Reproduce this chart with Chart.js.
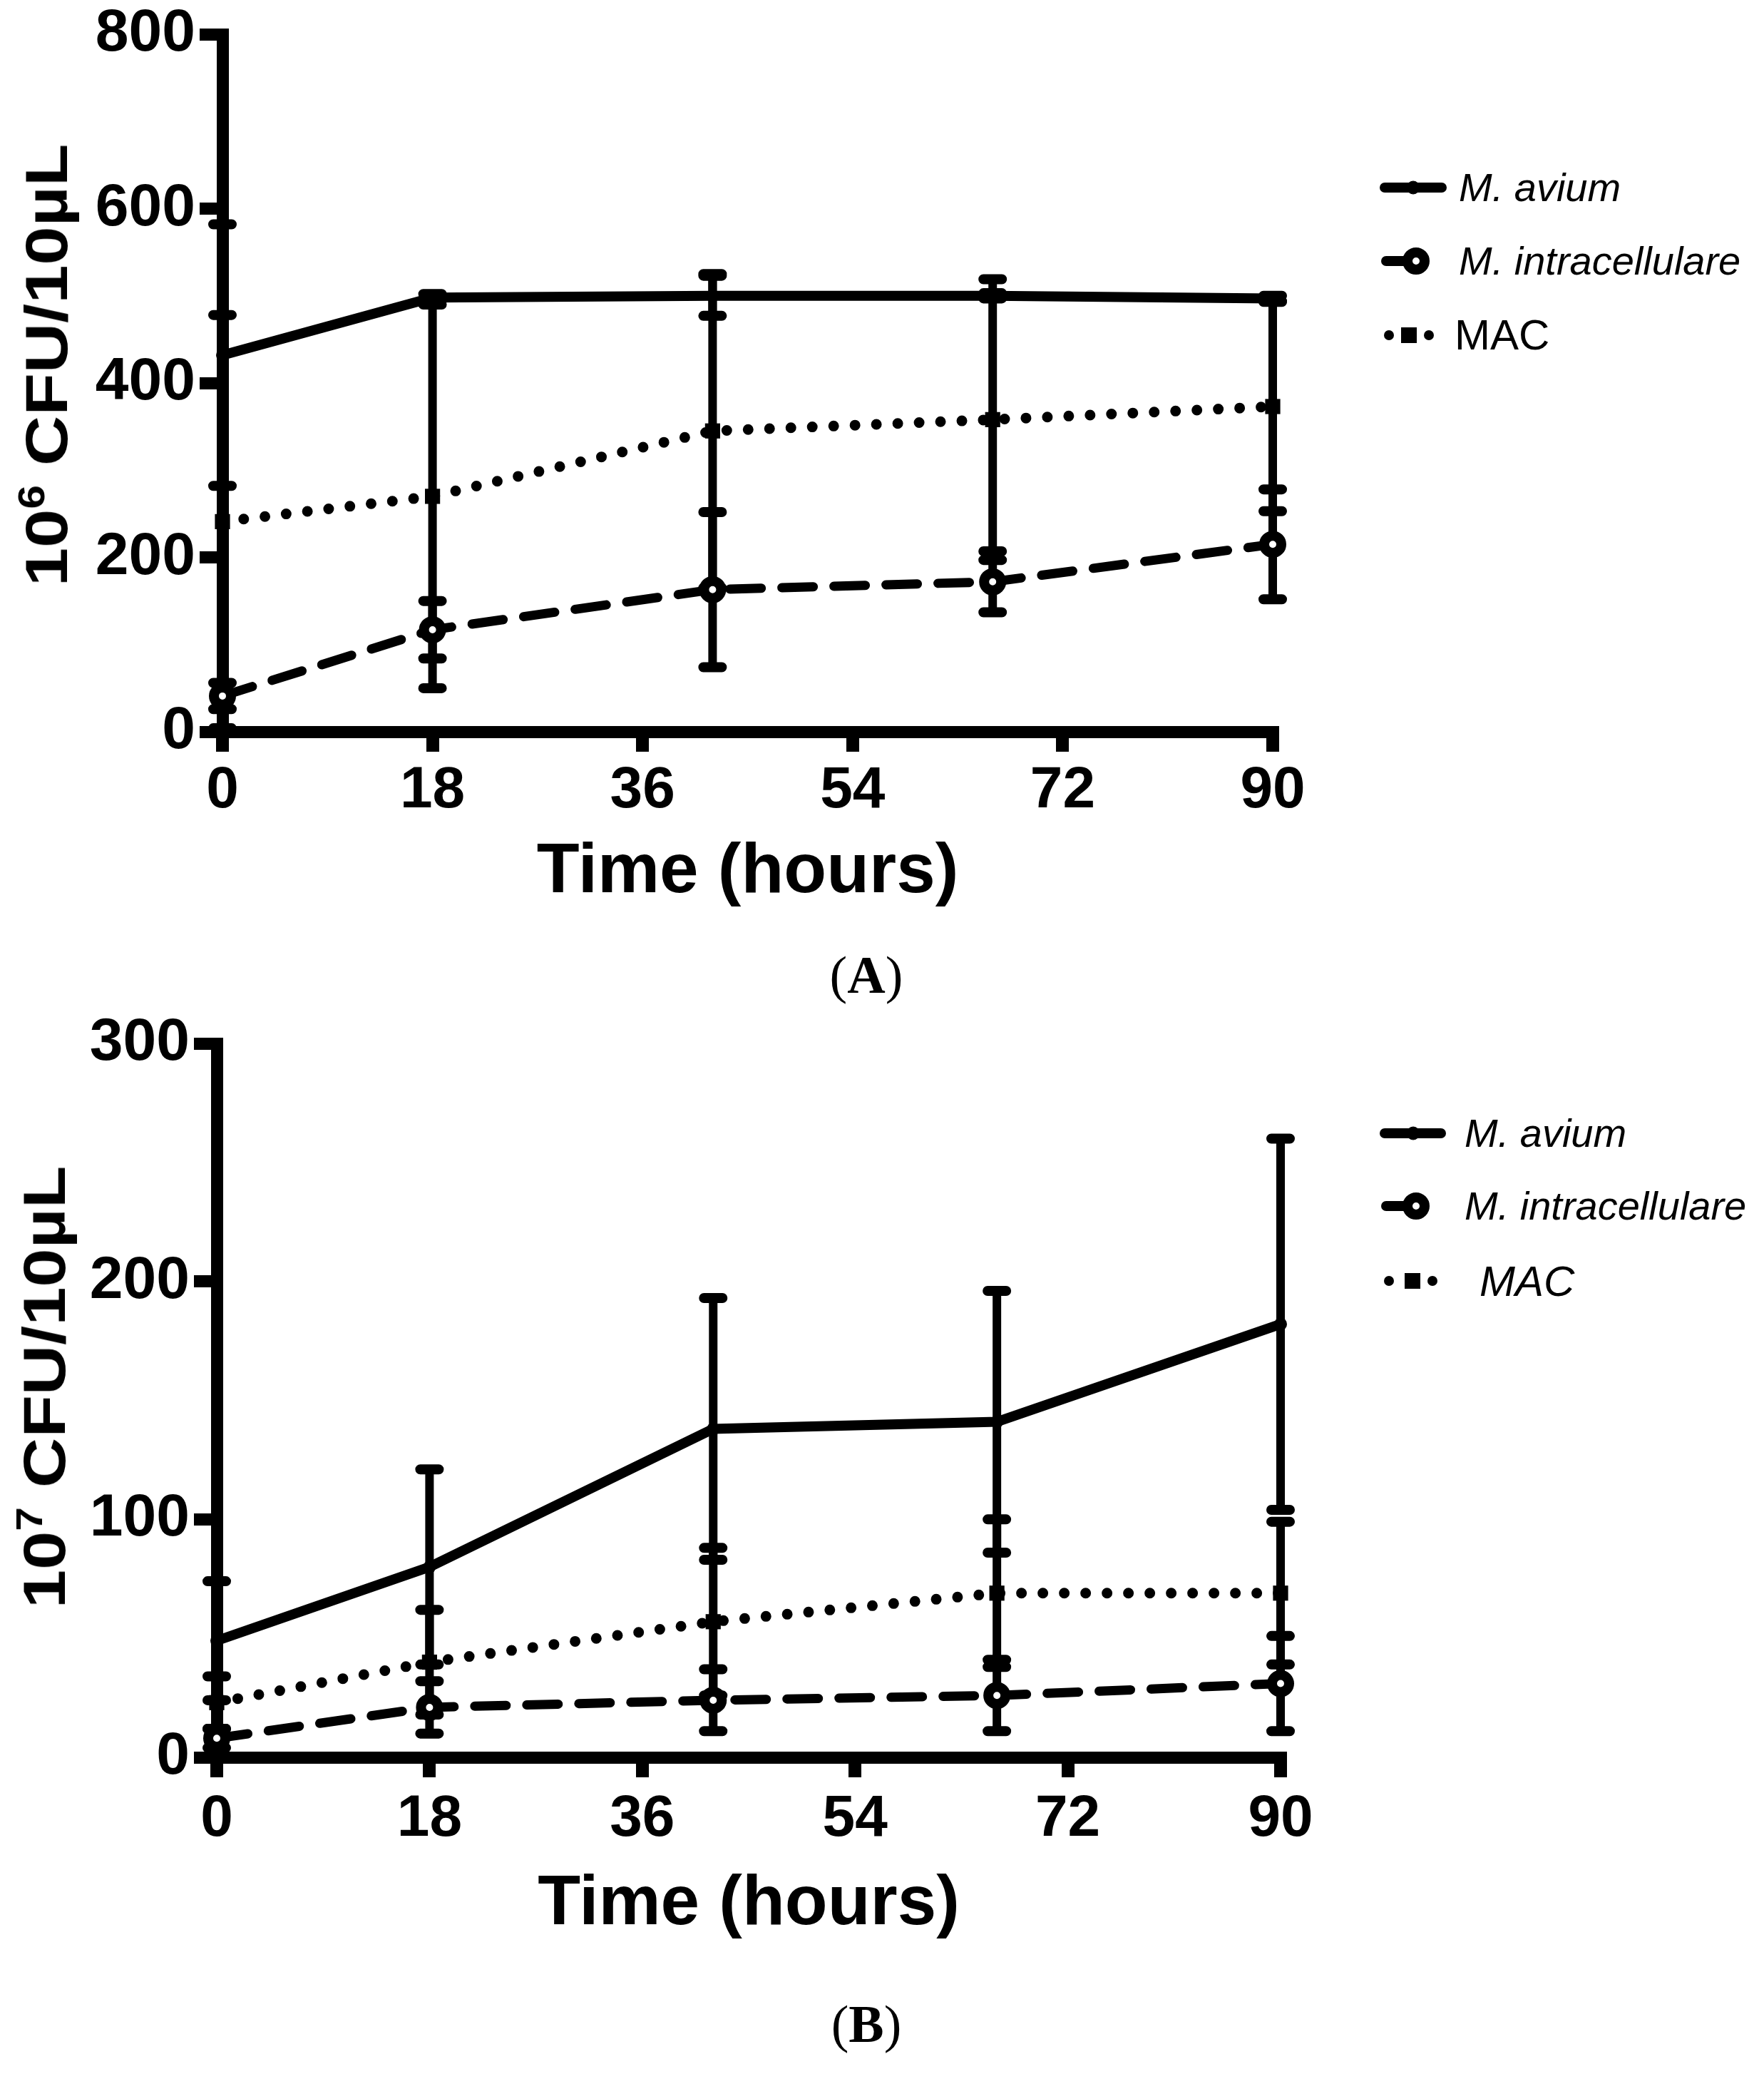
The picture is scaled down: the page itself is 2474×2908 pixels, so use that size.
<!DOCTYPE html>
<html>
<head>
<meta charset="utf-8">
<script src="https://cdn.jsdelivr.net/npm/chart.js@4.4.1/dist/chart.umd.min.js"></script>
<style>
  html, body { margin: 0; padding: 0; background: #fff; }
  #page { position: relative; width: 2474px; height: 2908px; overflow: hidden; background: #fff;
          font-family: "Liberation Sans", Arial, sans-serif; color: #000; }
  canvas { position: absolute; left: 0; }
  #chartA { top: 0; }
  #chartB { top: 1380px; }
  .ytitle { position: absolute; white-space: nowrap; font-weight: bold; font-size: 84px; line-height: 84px;
            transform: translate(-50%, -50%) rotate(-90deg) scaleX(1.16); }
  .ytitle sup { font-size: 0.62em; vertical-align: 0.62em; line-height: 0; }
  .panel { position: absolute; font-family: "Liberation Serif", "Times New Roman", serif; font-size: 74px;
           line-height: 80px; transform: translate(-50%, -50%); }
  .leg { position: absolute; white-space: nowrap; font-size: 56px; line-height: 60px; }
  .leg.it { font-style: italic; }
  #symbols { position: absolute; left: 0; top: 0; }
</style>
</head>
<body>
<div id="page">
  <canvas id="chartA" width="2474" height="1300"></canvas>
  <canvas id="chartB" width="2474" height="1380"></canvas>

  <div class="ytitle" style="left:65px; top:512px;">10<sup>6</sup> CFU/10µL</div>
  <div class="ytitle" style="left:62px; top:1945px;">10<sup>7</sup> CFU/10µL</div>

  <div class="panel" style="left:1215px; top:1367px;">(<b>A</b>)</div>
  <div class="panel" style="left:1215px; top:2838px;">(<b>B</b>)</div>

  <div class="leg it" style="left:2046px; top:233px;">M. avium</div>
  <div class="leg it" style="left:2046px; top:336px;">M. intracellulare</div>
  <div class="leg" style="left:2040px; top:438px; font-size:60px; line-height:64px;">MAC</div>

  <div class="leg it" style="left:2054px; top:1559px;">M. avium</div>
  <div class="leg it" style="left:2054px; top:1661px;">M. intracellulare</div>
  <div class="leg it" style="left:2075px; top:1765px; font-size:60px; line-height:64px;">MAC</div>

  <svg id="symbols" width="2474" height="2908">
    <g stroke="#000" fill="#000">
      <!-- legend A -->
      <line x1="1942" y1="263" x2="2022" y2="263" stroke-width="14" stroke-linecap="round"/>
      <circle cx="1982" cy="263" r="9"/>
      <line x1="1944" y1="366" x2="1978" y2="366" stroke-width="14" stroke-linecap="round"/>
      <circle cx="1986" cy="366" r="12" stroke-width="14" fill="#fff"/>
      <circle cx="1948" cy="470" r="7" stroke="none"/>
      <rect x="1965" y="459" width="22" height="22" stroke="none"/>
      <circle cx="2004" cy="470" r="7" stroke="none"/>
      <!-- legend B -->
      <line x1="1942" y1="1589" x2="2021" y2="1589" stroke-width="14" stroke-linecap="round"/>
      <circle cx="1982" cy="1589" r="9"/>
      <line x1="1944" y1="1691" x2="1978" y2="1691" stroke-width="14" stroke-linecap="round"/>
      <circle cx="1986" cy="1691" r="12" stroke-width="14" fill="#fff"/>
      <circle cx="1948" cy="1796" r="7" stroke="none"/>
      <rect x="1970" y="1785" width="22" height="22" stroke="none"/>
      <circle cx="2009" cy="1796" r="7" stroke="none"/>
    </g>
  </svg>
</div>

<script>
// ---- Data ----
const hours = [0, 18, 42, 66, 90];
const xTicks = [0, 18, 36, 54, 72, 90];
const yTicksA = [0, 200, 400, 600, 800];
const yTicksB = [0, 100, 200, 300];

// Panel A: 10^6 CFU/10 µL (mean and error)
const aviumA    = [432, 498, 500, 500, 497];
const aviumErrA = [150, 4, 23, 3, 3];
const intraA    = [41, 117, 163, 172, 215];
const intraErrA = [15, 33, 89, 35, 63];
const macA      = [241, 270, 345, 358, 373];
const macErrA   = [237, 220, 180, 161, 120];

// Panel B: 10^7 CFU/10 µL (mean and error)
const aviumB    = [49, 80, 138, 141, 182];
const aviumErrB = [25, 41, 55, 55, 78];
const intraB    = [8, 21, 24, 26, 31];
const intraErrB = [4, 11, 13, 15, 20];
const macB      = [23, 40, 57, 69, 69];
const macErrB   = [11, 22, 31, 31, 30];

const FONT = '"Liberation Sans", Arial, sans-serif';

function points(vals, errs) {
  return vals.map((v, i) => ({ x: hours[i], y: v, err: errs[i] }));
}

// ---- Error bars drawn through the chart scales ----
const errorBars = {
  id: 'errorBars',
  beforeDatasetsDraw(chart) {
    const { ctx, scales: { x, y } } = chart;
    ctx.save();
    ctx.strokeStyle = '#000';
    chart.data.datasets.forEach(ds => {
      ds.data.forEach(p => {
        const px  = x.getPixelForValue(p.x);
        const top = y.getPixelForValue(p.y + p.err);
        const bot = y.getPixelForValue(p.y - p.err);
        ctx.lineWidth = 12;
        ctx.lineCap = 'butt';
        ctx.beginPath();
        ctx.moveTo(px, top);
        ctx.lineTo(px, bot);
        ctx.stroke();
        ctx.lineWidth = 14;
        ctx.lineCap = 'round';
        ctx.beginPath();
        ctx.moveTo(px - 13, top); ctx.lineTo(px + 13, top);
        ctx.moveTo(px - 13, bot); ctx.lineTo(px + 13, bot);
        ctx.stroke();
      });
    });
    ctx.restore();
  }
};

function datasets(avium, aviumErr, intra, intraErr, mac, macErr) {
  return [
    {
      label: 'M. avium', data: points(avium, aviumErr),
      borderColor: '#000', borderWidth: 14, backgroundColor: '#000',
      pointStyle: 'circle', pointRadius: 9, pointBorderWidth: 0, clip: false
    },
    {
      label: 'M. intracellulare', data: points(intra, intraErr),
      borderColor: '#000', borderWidth: 13, borderDash: [44, 29], borderCapStyle: 'round',
      pointStyle: 'circle', pointRadius: 12, pointBorderWidth: 14,
      pointBorderColor: '#000', pointBackgroundColor: '#fff', clip: false
    },
    {
      label: 'MAC', data: points(mac, macErr),
      borderColor: '#000', borderWidth: 15, borderDash: [0, 30], borderCapStyle: 'round',
      pointStyle: 'rect', pointRadius: 15, pointBorderWidth: 0,
      pointBackgroundColor: '#000', clip: false
    }
  ];
}

function makeChart(id, opt) {
  const ctx = document.getElementById(id).getContext('2d');
  return new Chart(ctx, {
    type: 'line',
    data: { datasets: opt.datasets },
    plugins: [errorBars],
    options: {
      responsive: false,
      animation: false,
      devicePixelRatio: 1,
      layout: { padding: { left: 0, right: opt.padRight, top: opt.padTop, bottom: 0 } },
      plugins: { legend: { display: false }, tooltip: { enabled: false } },
      scales: {
        x: {
          type: 'linear', min: 0, max: 90,
          afterBuildTicks: s => { s.ticks = xTicks.map(v => ({ value: v })); },
          afterFit: s => { s.height = opt.xHeight; },
          border: { display: true, width: 17, color: '#000' },
          grid: { drawOnChartArea: false, drawTicks: true, tickLength: 28, lineWidth: 18, color: '#000' },
          ticks: { color: '#000', padding: opt.xPad, maxRotation: 0, autoSkip: false,
                   font: { family: FONT, weight: 'bold', size: 82, lineHeight: 1.2 } },
          title: { display: true, text: 'Time (hours)', color: '#000',
                   font: { family: FONT, weight: 'bold', size: 98, lineHeight: 1.2 },
                   padding: { top: 0, bottom: opt.titlePad } }
        },
        y: {
          min: 0, max: opt.yMax,
          afterBuildTicks: s => { s.ticks = opt.yTicks.map(v => ({ value: v })); },
          afterFit: s => { s.width = opt.yWidth; },
          border: { display: true, width: 17, color: '#000' },
          grid: { drawOnChartArea: false, drawTicks: true, tickLength: 32, lineWidth: 17, color: '#000' },
          ticks: { color: '#000', padding: 6,
                   font: { family: FONT, weight: 'bold', size: 84, lineHeight: 1 } }
        }
      }
    }
  });
}

makeChart('chartA', {
  datasets: datasets(aviumA, aviumErrA, intraA, intraErrA, macA, macErrA),
  yMax: 800, yTicks: yTicksA,
  padRight: 2474 - 1785, padTop: 44, xHeight: 1300 - 1026, yWidth: 312,
  xPad: 6, titlePad: 17
});

makeChart('chartB', {
  datasets: datasets(aviumB, aviumErrB, intraB, intraErrB, macB, macErrB),
  yMax: 300, yTicks: yTicksB,
  padRight: 2474 - 1796, padTop: 83, xHeight: 1380 - 1084, yWidth: 304,
  xPad: 10, titlePad: 30
});
</script>
</body>
</html>
